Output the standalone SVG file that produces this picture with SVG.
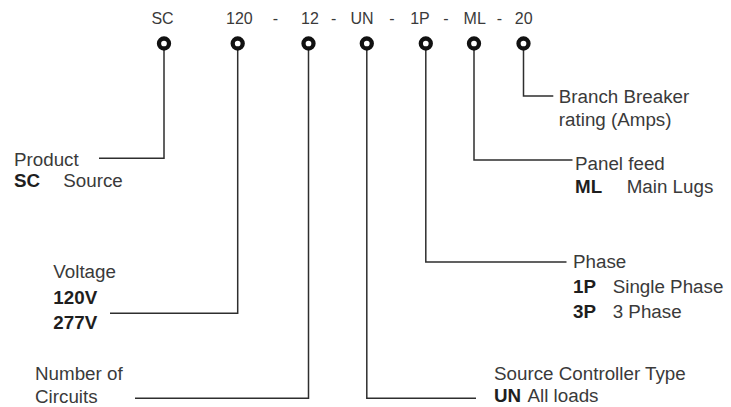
<svg xmlns="http://www.w3.org/2000/svg" width="731" height="407" viewBox="0 0 731 407">
  <style>
    .code { font-family: "Liberation Sans", Arial, sans-serif; font-size: 16px; fill: #3a3a3a; text-anchor: middle; }
    .lbl { font-family: "Liberation Sans", Arial, sans-serif; font-size: 18.8px; fill: #3a3a3a; }
    .b { font-weight: bold; fill: #1e1e1e; }
    .dot { fill: #fff; stroke: #111; stroke-width: 4.3; }
    .wire { fill: none; stroke: #2e2e2e; stroke-width: 1.5; }
  </style>
  <rect width="731" height="407" fill="#fff"/>

  <g id="separators">
    <text class="code" x="275.3" y="24">-</text>
    <text class="code" x="333.7" y="24">-</text>
    <text class="code" x="392" y="24">-</text>
    <text class="code" x="446" y="24">-</text>
    <text class="code" x="499.5" y="24">-</text>
  </g>

  <g id="connectors">
    <path class="wire" d="M164 49 V158.3 H99"/>
    <path class="wire" d="M237.7 49 V313.3 H110"/>
    <path class="wire" d="M308.5 49 V398.3 H135"/>
    <path class="wire" d="M366.8 49 V398.3 H476"/>
    <path class="wire" d="M425.8 49 V262 H566.5"/>
    <path class="wire" d="M474 49 V160 H572.5"/>
    <path class="wire" d="M523.5 49 V96 H553.3"/>
  </g>

  <g id="node-product">
    <text class="code" x="162.5" y="24">SC</text>
    <circle class="dot" cx="164" cy="43.5" r="5"/>
    <text class="lbl" x="14" y="166">Product</text>
    <text class="lbl b" x="14" y="187">SC</text>
    <text class="lbl" x="63.3" y="187">Source</text>
  </g>

  <g id="node-voltage">
    <text class="code" x="239.4" y="24">120</text>
    <circle class="dot" cx="237.7" cy="43.5" r="5"/>
    <text class="lbl" x="53.3" y="278">Voltage</text>
    <text class="lbl b" x="53.3" y="303.5">120V</text>
    <text class="lbl b" x="53.3" y="329">277V</text>
  </g>

  <g id="node-circuits">
    <text class="code" x="310" y="24">12</text>
    <circle class="dot" cx="308.5" cy="43.5" r="5"/>
    <text class="lbl" x="35" y="380">Number of</text>
    <text class="lbl" x="35" y="403.3">Circuits</text>
  </g>

  <g id="node-controller">
    <text class="code" x="362" y="24">UN</text>
    <circle class="dot" cx="366.8" cy="43.5" r="5"/>
    <text class="lbl" x="494" y="380">Source Controller Type</text>
    <text class="lbl b" x="494" y="401.5">UN</text>
    <text class="lbl" x="527.5" y="401.5">All loads</text>
  </g>

  <g id="node-phase">
    <text class="code" x="420" y="24">1P</text>
    <circle class="dot" cx="425.8" cy="43.5" r="5"/>
    <text class="lbl" x="573" y="268.3">Phase</text>
    <text class="lbl b" x="573" y="293.3">1P</text>
    <text class="lbl" x="612.7" y="293.3">Single Phase</text>
    <text class="lbl b" x="573" y="318.3">3P</text>
    <text class="lbl" x="612.7" y="318.3">3 Phase</text>
  </g>

  <g id="node-feed">
    <text class="code" x="474.7" y="24">ML</text>
    <circle class="dot" cx="474" cy="43.5" r="5"/>
    <text class="lbl" x="575" y="170">Panel feed</text>
    <text class="lbl b" x="575" y="193.3">ML</text>
    <text class="lbl" x="626.7" y="193.3">Main Lugs</text>
  </g>

  <g id="node-breaker">
    <text class="code" x="523.7" y="24">20</text>
    <circle class="dot" cx="523.5" cy="43.5" r="5"/>
    <text class="lbl" x="558.8" y="102.8">Branch Breaker</text>
    <text class="lbl" x="558.8" y="125.5">rating (Amps)</text>
  </g>
</svg>
